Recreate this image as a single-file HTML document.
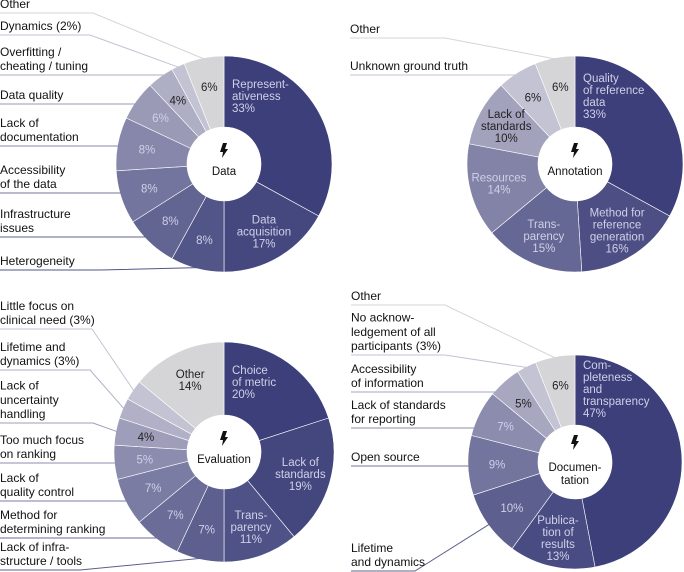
<!DOCTYPE html>
<html><head><meta charset="utf-8"><style>
html,body{margin:0;padding:0;background:#fff;}
svg{display:block;font-family:"Liberation Sans",Arial,sans-serif;}
</style></head><body>
<svg id="fig" width="684" height="572" viewBox="0 0 684 572"></svg>
<script>
// ---- data ----
const dataCats = ["Representativeness","Data acquisition","Heterogeneity","Infrastructure issues","Accessibility of the data","Lack of documentation","Data quality","Overfitting / cheating / tuning","Dynamics","Other"];
const dataVals = [33,17,8,8,8,8,6,4,2,6];
const annCats = ["Quality of reference data","Method for reference generation","Transparency","Resources","Lack of standards","Unknown ground truth","Other"];
const annVals = [33,16,15,14,10,6,6];
const evalCats = ["Choice of metric","Lack of standards","Transparency","Lack of infrastructure / tools","Method for determining ranking","Lack of quality control","Too much focus on ranking","Lack of uncertainty handling","Lifetime and dynamics","Little focus on clinical need","Other"];
const evalVals = [20,19,11,7,7,7,5,4,3,3,14];
const docCats = ["Completeness and transparency","Publication of results","Lifetime and dynamics","Open source","Lack of standards for reporting","Accessibility of information","No acknowledgement of all participants","Other"];
const docVals = [47,13,10,9,7,5,3,6];

const charts = [
 {key:"data", title:["Data"], cx:224, cy:164, R:108, r:37, cats:dataCats, vals:dataVals,
  inner:[["Represent-","ativeness"],["Data","acquisition"],null,null,null,null,null,null,null,null],
  leaders:[
   {i:9, lines:["Other"], y:13, x0:0, bx:93},
   {i:8, lines:["Dynamics (2%)"], y:35, x0:0, bx:90},
   {i:7, lines:["Overfitting /","cheating / tuning"], y:75, x0:0},
   {i:6, lines:["Data quality"], y:104, x0:0},
   {i:5, lines:["Lack of","documentation"], y:146, x0:0},
   {i:4, lines:["Accessibility","of the data"], y:193, x0:0},
   {i:3, lines:["Infrastructure","issues"], y:237, x0:0},
   {i:2, lines:["Heterogeneity"], y:270, x0:0, bx:100}
  ]},
 {key:"annotation", title:["Annotation"], cx:575, cy:164, R:108, r:37, cats:annCats, vals:annVals,
  inner:[["Quality","of reference","data"],["Method for","reference","generation"],["Trans-","parency"],["Resources"],["Lack of","standards"],null,null],
  leaders:[
   {i:6, lines:["Other"], y:38, x0:350, bx:445},
   {i:5, lines:["Unknown ground truth"], y:75, x0:350}
  ]},
 {key:"evaluation", title:["Evaluation"], cx:224, cy:452, R:110, r:37, cats:evalCats, vals:evalVals,
  inner:[["Choice","of metric"],["Lack of","standards"],["Trans-","parency"],null,null,null,null,null,null,null,["Other"]],
  leaders:[
   {i:9, lines:["Little focus on","clinical need (3%)"], y:329, x0:0, bx:92},
   {i:8, lines:["Lifetime and","dynamics (3%)"], y:370, x0:0, bx:90},
   {i:7, lines:["Lack of","uncertainty","handling"], y:423, x0:0, bx:93},
   {i:6, lines:["Too much focus","on ranking"], y:463, x0:0},
   {i:5, lines:["Lack of","quality control"], y:501, x0:0},
   {i:4, lines:["Method for","determining ranking"], y:538, x0:0},
   {i:3, lines:["Lack of infra-","structure / tools"], y:570, x0:0, bx:80}
  ]},
 {key:"documentation", title:["Documen-","tation"], cx:575, cy:462, R:107, r:37, cats:docCats, vals:docVals,
  inner:[["Com-","pleteness","and","transparency"],["Publica-","tion of","results"],null,null,null,null,null,null],
  leaders:[
   {i:7, lines:["Other"], y:305, x0:351, bx:445},
   {i:6, lines:["No acknow-","ledgement of all","participants (3%)"], y:355, x0:351, bx:445},
   {i:5, lines:["Accessibility","of information"], y:392, x0:351},
   {i:4, lines:["Lack of standards","for reporting"], y:428, x0:351},
   {i:3, lines:["Open source"], y:466, x0:351},
   {i:2, lines:["Lifetime","and dynamics"], y:571, x0:351, bx:415}
  ]}
];

const NS = "http://www.w3.org/2000/svg";
const svg = document.getElementById("fig");
function mk(tag, attrs, parent){const e=document.createElementNS(NS,tag);for(const k in attrs)e.setAttribute(k,attrs[k]);(parent||svg).appendChild(e);return e;}
function lerp(a,b,t){return Math.round(a+(b-a)*t);}
function slug(s){return s.toLowerCase().replace(/[^a-z0-9]+/g,'-').replace(/^-|-$/g,'');}
const C0=[60,63,121], C1=[196,195,211], OTHER="#d5d5d8";

charts.forEach(ch=>{
  const g = mk("g",{});
  
  
  const total = ch.vals.reduce((a,b)=>a+b,0);
  const n = ch.vals.length, nn = n-1;
  const pt=(ang,rad)=>[ch.cx+rad*Math.sin(ang), ch.cy-rad*Math.cos(ang)];
  let acc=0; const mids=[], cols=[], ts=[];
  ch.vals.forEach((v,i)=>{
    const a0=acc/total*2*Math.PI; acc+=v; const a1=acc/total*2*Math.PI;
    mids.push((a0+a1)/2);
    const isOther = ch.cats[i]==="Other";
    const t0 = nn>1 ? i/(nn-1) : 0;
    const t = Math.pow(t0,1.3);
    ts.push(isOther?1:t0);
    const col = isOther?OTHER:`rgb(${lerp(C0[0],C1[0],t)},${lerp(C0[1],C1[1],t)},${lerp(C0[2],C1[2],t)})`;
    cols.push(col);
    const [x0,y0]=pt(a0,ch.R),[x1,y1]=pt(a1,ch.R),[x2,y2]=pt(a1,ch.r),[x3,y3]=pt(a0,ch.r);
    const lg=(a1-a0)>Math.PI?1:0;
    const p=mk("path",{d:`M${x0},${y0}A${ch.R},${ch.R} 0 ${lg} 1 ${x1},${y1}L${x2},${y2}A${ch.r},${ch.r} 0 ${lg} 0 ${x3},${y3}Z`,fill:col,stroke:"#fff","stroke-width":0.6},g);
    
    
  });
  // center hole
  const c=mk("circle",{cx:ch.cx,cy:ch.cy,r:ch.r,fill:"#fff"},g);
  
  
  // inner labels
  const LH=12;
  ch.vals.forEach((v,i)=>{
    const lines = ch.inner[i];
    if(!lines && v<4) return;
    const isOther = ch.cats[i]==="Other";
    const dark = isOther || ts[i]>0.76;
    const fill = dark?"#222":"#d0d0e8";
    const all = (lines||[]).concat([v+"%"]);
    let x,y,anchor;
    if(i===0){ x=ch.cx+8; y=ch.cy-ch.R+(all.length>=5?14:all.length>=4?26:32); anchor="start"; }
    else { const [px,py]=pt(mids[i],(ch.R+ch.r)/2+6); x=px; y=py-(all.length-1)*LH/2+4; anchor="middle"; }
    const tx=mk("text",{x:x,y:y,"font-size":11.5,fill:fill,"text-anchor":anchor},g);
    
    
    all.forEach((l,k)=>{const s=mk("tspan",{x:x,dy:k?LH:0},tx);s.textContent=l;});
  });
  const by = ch.cy - (ch.title.length>1?20:14);
  const bolt=mk("path",{d:`M${ch.cx-1},${by-7}L${ch.cx+3},${by-7}L${ch.cx+1},${by-1}L${ch.cx+4},${by-1}L${ch.cx-2},${by+8}L${ch.cx-1},${by+2}L${ch.cx-4},${by+2}Z`,fill:"#111"},g);
  
  
  const tt=mk("text",{x:ch.cx,y:ch.cy+(ch.title.length>1?9:11),"font-size":11.5,fill:"#111","text-anchor":"middle"},g);
  
  
  ch.title.forEach((l,k)=>{const s=mk("tspan",{x:ch.cx,dy:k?13:0},tt);s.textContent=l;});
  // leader labels
  ch.leaders.forEach(L=>{
    let pts;
    if(L.bx!==undefined){ const [ex,ey]=pt(mids[L.i],ch.R-1); pts=[[L.x0,L.y],[L.bx,L.y],[ex,ey]]; }
    else { const dy=L.y-ch.cy; const ex=ch.cx-Math.sqrt(Math.max(0,ch.R*ch.R-dy*dy))+1; pts=[[L.x0,L.y],[ex,L.y]]; }
    const pl=mk("polyline",{points:pts.map(p=>p.join(",")).join(" "),fill:"none",stroke:cols[L.i],"stroke-width":1},g);
    
    
    const tx=mk("text",{x:L.x0,y:L.y-5-(L.lines.length-1)*14.2,"font-size":12,fill:"#111"},g);
    
    
    L.lines.forEach((l,k)=>{const s=mk("tspan",{x:L.x0,dy:k?14.2:0},tx);s.textContent=l;});
  });
});
</script>
</body></html>
